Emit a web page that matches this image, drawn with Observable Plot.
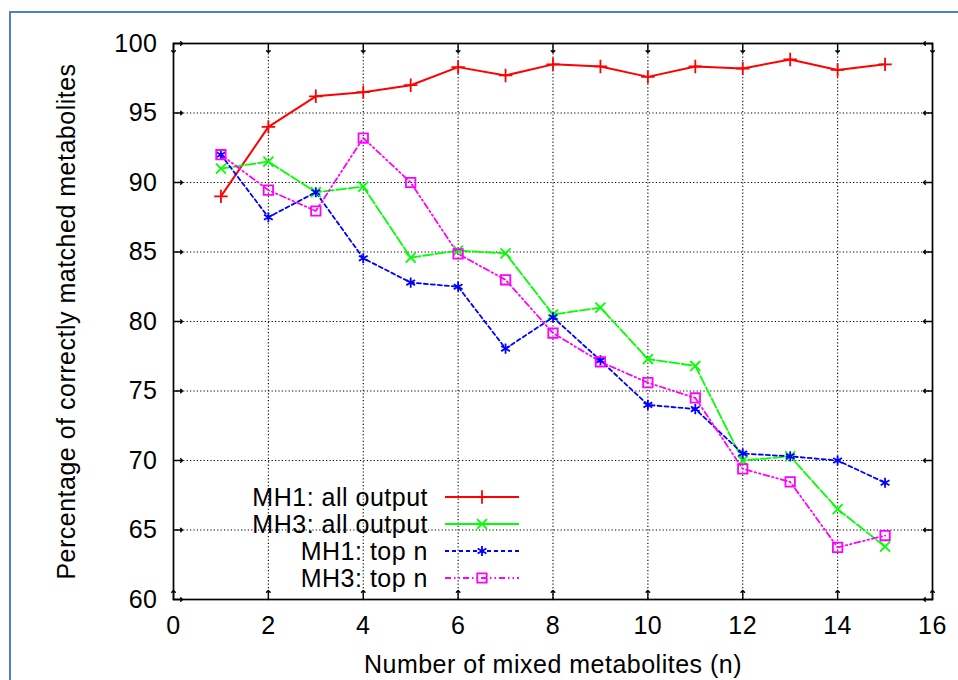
<!DOCTYPE html>
<html><head><meta charset="utf-8">
<script src="https://cdn.jsdelivr.net/npm/d3@7"></script>
<script src="https://cdn.jsdelivr.net/npm/@observablehq/plot@0.6"></script>
<style>
body{margin:0;background:#fff;}
#wrap{position:relative;width:958px;height:680px;overflow:hidden;background:#fff;}
#border{position:absolute;left:9px;top:11px;width:2000px;height:2000px;border-left:2px solid #4f81bd;border-top:2px solid #4f81bd;pointer-events:none;}
#wrap svg{position:absolute;left:0;top:0;}
</style></head><body><div id="wrap"><div id="border"></div></div>
<script>
// ---- data ----
const nValues   = [1, 2, 3, 4, 5, 6, 7, 8, 9, 10, 11, 12, 13, 14, 15];
const mh1All    = [89.0, 94.0, 96.2, 96.5, 97.0, 98.3, 97.7, 98.5, 98.35, 97.6, 98.35, 98.2, 98.85, 98.1, 98.5];
const mh3All    = [91.0, 91.5, 89.3, 89.7, 84.6, 85.1, 84.9, 80.5, 81.0, 77.3, 76.8, 70.0, 70.3, 66.5, 63.8];
const mh1Top    = [92.0, 87.5, 89.3, 84.55, 82.8, 82.5, 78.05, 80.3, 77.2, 74.0, 73.7, 70.5, 70.3, 70.0, 68.4];
const mh3Top    = [92.0, 89.45, 87.95, 93.2, 90.0, 84.86, 83.0, 79.17, 77.1, 75.6, 74.5, 69.4, 68.46, 63.75, 64.6];
const seriesNames  = ["MH1: all output", "MH3: all output", "MH1: top n", "MH3: top n"];
const seriesColors = ["#ff0000", "#00ff00", "#0000ff", "#ff00ff"];
const seriesDash   = [null, "10,2.5", "4,3", "6,3,1.5,3,1.5,3"];
const seriesSymbol = ["plus", "times", "asterisk", "square2"];
const seriesR      = [4.4, 4.6, 4.8, 6.0];
const xTicks = [0, 2, 4, 6, 8, 10, 12, 14, 16];
const yTicks = [60, 65, 70, 75, 80, 85, 90, 95, 100];
const xLabel = "Number of mixed metabolites (n)";
const yLabel = "Percentage of correctly matched metabolites";

const seriesValues = [mh1All, mh3All, mh1Top, mh3Top];
const series = seriesNames.map((name, i) => ({
  name, color: seriesColors[i], dash: seriesDash[i], symbol: seriesSymbol[i], r: seriesR[i],
  rows: nValues.map((n, j) => ({n, v: seriesValues[i][j]}))
}));

const gridStyle = {stroke: "#000", strokeOpacity: 1, strokeWidth: 1.1, strokeDasharray: "1.2,2.2"};
const tickStyle = {stroke: "#000", strokeWidth: 1.4, length: 9, anchor: "start"};

const marks = [
  Plot.gridX(xTicks.slice(1, -1), gridStyle),
  Plot.gridY(yTicks.slice(1, -1), gridStyle),
  Plot.vector(xTicks, {x: d => d, frameAnchor: "bottom", rotate: 0, ...tickStyle}),
  Plot.vector(xTicks, {x: d => d, frameAnchor: "top", rotate: 180, ...tickStyle}),
  Plot.vector(yTicks, {y: d => d, frameAnchor: "left", rotate: 90, ...tickStyle}),
  Plot.vector(yTicks, {y: d => d, frameAnchor: "right", rotate: -90, ...tickStyle}),
  Plot.frame({stroke: "#000", strokeWidth: 1.7}),
  Plot.axisX(xTicks, {tickSize: 0, tickPadding: 17, label: xLabel, labelAnchor: "center", labelOffset: 73, labelArrow: "none"}),
  Plot.axisY(yTicks, {tickSize: 0, tickPadding: 16, label: yLabel, labelAnchor: "center", labelOffset: 116, labelArrow: "none"})
];
for (const s of series) {
  marks.push(Plot.line(s.rows, {x: "n", y: "v", stroke: s.color, strokeWidth: s.dash ? 1.8 : 2, strokeDasharray: s.dash}));
}
for (const s of series) {
  marks.push(Plot.dot(s.rows, {x: "n", y: "v", symbol: () => s.symbol, r: s.r, stroke: s.color, strokeWidth: 1.8, fill: "none"}));
}

const chart = Plot.plot({
  width: 958, height: 680,
  marginLeft: 173, marginRight: 26, marginTop: 43, marginBottom: 81,
  x: {domain: [0, 16]},
  y: {domain: [60, 100]},
  symbol: {type: "identity"},
  style: {fontFamily: "'Liberation Sans', Arial, sans-serif", fontSize: "25px", letterSpacing: "0.5px", color: "#000", background: "transparent", overflow: "visible"},
  marks
});
document.getElementById("wrap").appendChild(chart);

// ---- legend (inside the frame, lower left) ----
const xr = chart.scale("x").range, yr = chart.scale("y").range;
const left = Math.min(...xr), bottom = Math.max(...yr);
const svg = d3.select(chart);
const lg = svg.append("g").attr("font-family", "'Liberation Sans', Arial, sans-serif").attr("font-size", 25).style("letter-spacing", "0.5px");
const rowOffsets = [102, 75, 48, 21];
const d3Sym = {plus: d3.symbolPlus, times: d3.symbolTimes, asterisk: d3.symbolAsterisk, square2: d3.symbolSquare2};
series.forEach((s, i) => {
  const cy = bottom - rowOffsets[i];
  lg.append("text").attr("x", left + 255).attr("y", cy).attr("dy", "0.35em").attr("text-anchor", "end").attr("fill", "#000").text(s.name);
  lg.append("line").attr("x1", left + 272).attr("x2", left + 346).attr("y1", cy).attr("y2", cy)
    .attr("stroke", s.color).attr("stroke-width", s.dash ? 1.8 : 2).attr("stroke-dasharray", i === 1 ? null : s.dash);
  lg.append("path").attr("transform", `translate(${left + 309},${cy})`)
    .attr("d", d3.symbol(d3Sym[s.symbol], Math.PI * s.r * s.r)())
    .attr("stroke", s.color).attr("stroke-width", 1.8).attr("fill", "none");
});
</script>
</body></html>
